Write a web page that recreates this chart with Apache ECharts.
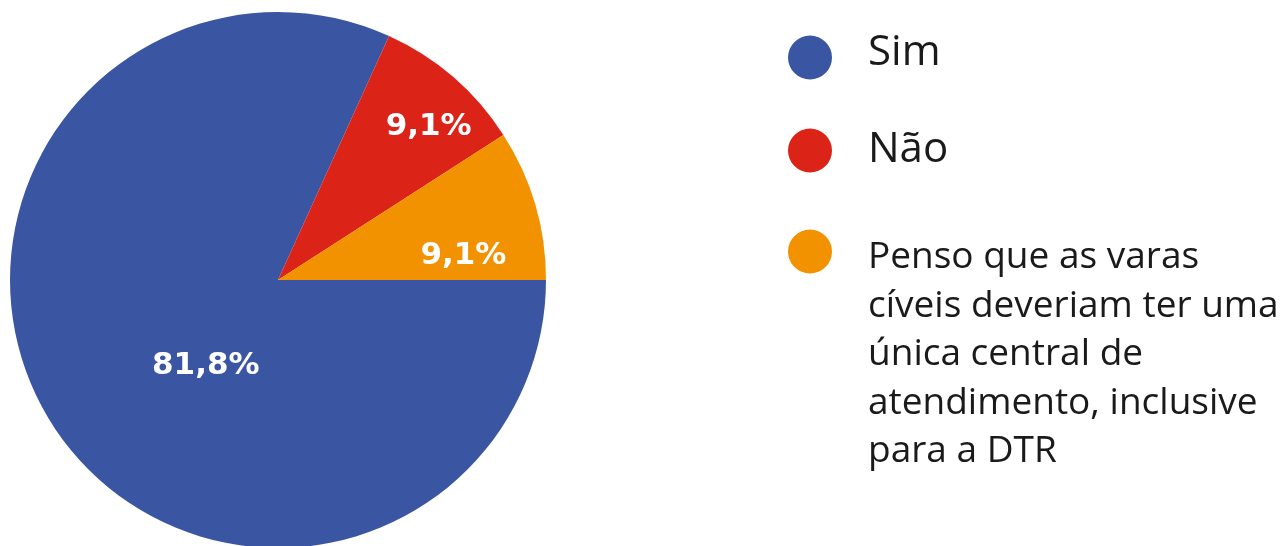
<!DOCTYPE html>
<html>
<head>
<meta charset="utf-8">
<title>Central de atendimento</title>
<script src="https://cdn.jsdelivr.net/npm/echarts@6/dist/echarts.min.js"></script>
<style>
  html, body { margin: 0; padding: 0; background: #ffffff; }
  #chart { width: 1281px; height: 546px; }
</style>
</head>
<body>
<div id="chart"></div>
<script>
// Answer categories and their shares (%)
const categories = [
  'Sim',
  'Não',
  'Penso que as varas\ncíveis deveriam ter uma\núnica central de\natendimento, inclusive\npara a DTR'
];
const shares = [81.8, 9.1, 9.1];
const colors = ['#3a56a3', '#dc2318', '#f29200'];

// Nudges for the in-slice percentage labels
const labelNudge = [[43, 11.5], [61, -49], [54, 14.5]];

const FONT = '"Open Sans", "Noto Sans", sans-serif';
const LABEL_FONT = '"DejaVu Sans", "Open Sans", sans-serif';

const chart = echarts.init(document.getElementById('chart'), null, { renderer: 'canvas' });

// One legend per entry so each marker can sit level with the first text line.
// The transparent box makes the padding part of the entry's layout box.
function legendFor(i, top, fontSize, lineHeight, padding) {
  return {
    data: [categories[i]],
    left: 788,
    top: top,
    orient: 'vertical',
    padding: 0,
    icon: 'circle',
    itemWidth: 44,
    itemHeight: 44,
    selectedMode: false,
    formatter: name => '{t|' + name + '}',
    textStyle: {
      color: '#1a1a1a',
      fontFamily: FONT,
      backgroundColor: 'transparent',
      padding: padding,
      rich: {
        t: { color: '#1a1a1a', fontFamily: FONT, fontSize: fontSize, lineHeight: lineHeight }
      }
    }
  };
}

chart.setOption({
  animation: false,
  color: colors,
  legend: [
    legendFor(0, 31.5, 42, 44, [0, 0, 8, 31]),
    legendFor(1, 128.5, 42, 44, [0, 0, 0, 31]),
    legendFor(2, 27.25, 37, 48.5, [206, 0, 0, 31])
  ],
  series: [{
    type: 'pie',
    center: [278, 280],
    radius: 268,
    startAngle: 0,
    clockwise: true,
    avoidLabelOverlap: false,
    emphasis: { disabled: true },
    itemStyle: { borderWidth: 0 },
    label: {
      show: true,
      position: 'inside',
      color: '#ffffff',
      fontFamily: LABEL_FONT,
      fontWeight: 'bold',
      fontSize: 31,
      formatter: p => p.value.toFixed(1).replace('.', ',') + '%'
    },
    labelLine: { show: false },
    labelLayout: p => ({ dx: labelNudge[p.dataIndex][0], dy: labelNudge[p.dataIndex][1] }),
    data: categories.map((name, i) => ({ name: name, value: shares[i] }))
  }]
});
</script>
</body>
</html>
